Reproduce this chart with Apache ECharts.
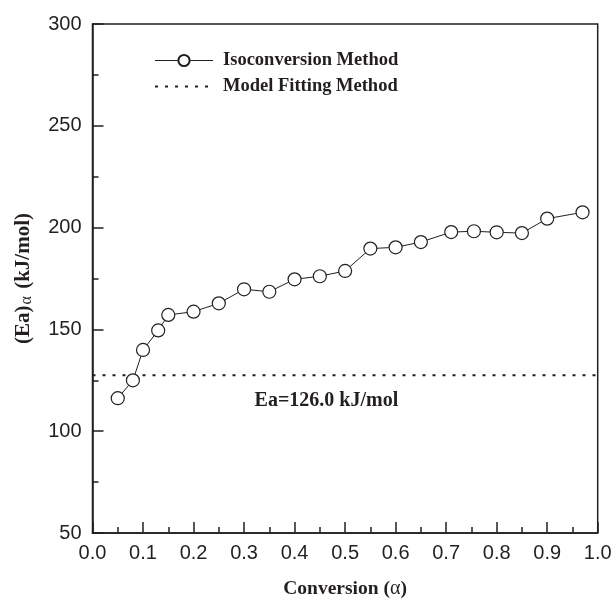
<!DOCTYPE html>
<html>
<head>
<meta charset="utf-8">
<script src="https://cdn.jsdelivr.net/npm/echarts@6/dist/echarts.min.js"></script>
<style>html,body{margin:0;padding:0;background:#fff}#c{width:612px;height:599px}</style>
</head>
<body>
<div id="c"></div>
<script>
const conversion = [0.05, 0.08, 0.10, 0.13, 0.15, 0.20, 0.25, 0.30, 0.35, 0.40, 0.45, 0.50, 0.55, 0.60, 0.65, 0.71, 0.755, 0.80, 0.85, 0.90, 0.97];
const isoEa = [116.2, 125.0, 139.9, 149.5, 157.1, 158.7, 162.8, 169.7, 168.5, 174.6, 176.1, 178.7, 189.7, 190.3, 192.9, 197.8, 198.2, 197.7, 197.3, 204.4, 207.5];
const modelX = [0, 1];
const modelEa = [127.5, 127.5];
const modelLabel = 'Ea=126.0 kJ/mol';
const modelLabelAt = [0.311, 115];
const seriesNames = ['Isoconversion Method', 'Model Fitting Method'];

const ink = '#231f20';
const serif = '"Liberation Serif", "Times New Roman", serif';
const sans = '"Liberation Sans", Arial, sans-serif';

const chart = echarts.init(document.getElementById('c'), null, {renderer: 'canvas'});
chart.setOption({
  animation: false,
  backgroundColor: '#fff',
  grid: {left: 92.5, right: 14.3, top: 24, bottom: 66, containLabel: false, outerBoundsMode: 'none',
         show: true, borderColor: ink, borderWidth: 1.5, backgroundColor: 'transparent'},
  legend: {
    orient: 'vertical', left: 154, top: 51, padding: 0, itemWidth: 58, itemHeight: 14, itemGap: 7,
    textStyle: {fontFamily: serif, fontWeight: 'bold', fontSize: 18.5, color: ink, padding: [0, 0, 0, 5]},
    data: [
      {name: seriesNames[0], lineStyle: {width: 1}},
      {name: seriesNames[1], itemStyle: {opacity: 0}, lineStyle: {width: 2, type: [3, 7]}}
    ]
  },
  xAxis: {
    type: 'value', min: 0, max: 1, interval: 0.1,
    name: '{b|Conversion (}{g|α}{b|)}', nameLocation: 'middle', nameGap: 46,
    nameTextStyle: {
      rich: {
        b: {fontFamily: serif, fontWeight: 'bold', fontSize: 19.5, color: ink},
        g: {fontFamily: serif, fontSize: 20, color: ink}
      }
    },
    axisLine: {lineStyle: {color: ink, width: 1.5}},
    axisTick: {inside: true, length: 11, lineStyle: {color: ink, width: 1.5}},
    minorTick: {show: true, splitNumber: 2, length: 6, lineStyle: {color: ink, width: 1.5}},
    splitLine: {show: false},
    axisLabel: {fontFamily: sans, fontSize: 20, color: ink, margin: 10, formatter: v => v.toFixed(1)}
  },
  yAxis: {
    type: 'value', min: 50, max: 300, interval: 50,
    name: '{b|(Ea)}{s|α}{b| (kJ/mol)}', nameLocation: 'middle', nameGap: 58,
    nameTextStyle: {
      rich: {
        b: {fontFamily: serif, fontWeight: 'bold', fontSize: 21, color: ink, lineHeight: 22},
        s: {fontFamily: serif, fontSize: 16, color: ink, lineHeight: 22, verticalAlign: 'bottom', padding: [7, 2, 0, 1]}
      }
    },
    axisLine: {lineStyle: {color: ink, width: 1.5}},
    axisTick: {inside: true, length: 11, lineStyle: {color: ink, width: 1.5}},
    minorTick: {show: true, splitNumber: 2, length: 6, lineStyle: {color: ink, width: 1.5}},
    splitLine: {show: false},
    axisLabel: {fontFamily: sans, fontSize: 20, color: ink, margin: 11}
  },
  series: [
    {
      name: seriesNames[0], type: 'line',
      data: conversion.map((x, i) => [x, isoEa[i]]),
      symbol: 'circle', symbolSize: 13, showSymbol: true,
      itemStyle: {color: '#fff', borderColor: ink, borderWidth: 1.2},
      lineStyle: {color: ink, width: 1},
      z: 3
    },
    {
      name: seriesNames[1], type: 'line',
      data: modelX.map((x, i) => [x, modelEa[i]]),
      symbol: 'none',
      itemStyle: {color: ink},
      lineStyle: {color: ink, width: 2, type: [3, 7]},
      markPoint: {
        symbol: 'circle', symbolSize: 0,
        data: [{coord: modelLabelAt, value: modelLabel}],
        label: {show: true, position: 'right', formatter: modelLabel, fontFamily: serif, fontWeight: 'bold', fontSize: 20, color: ink}
      }
    }
  ]
});
</script>
</body>
</html>
